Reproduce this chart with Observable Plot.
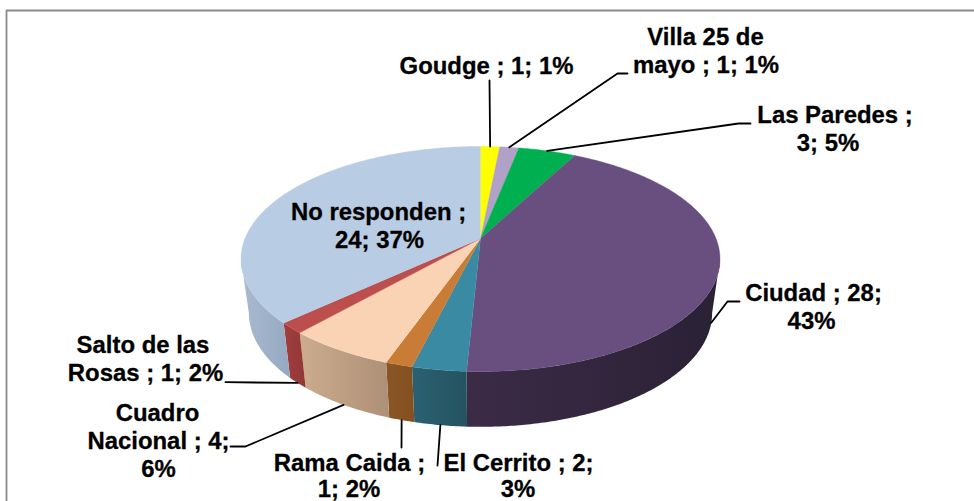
<!DOCTYPE html>
<html><head><meta charset="utf-8">
<script src="https://cdn.jsdelivr.net/npm/d3@7"></script>
<script src="https://cdn.jsdelivr.net/npm/@observablehq/plot@0.6"></script>
<style>html,body{margin:0;padding:0;background:#fff}svg{display:block}</style>
</head><body><div id="chart"></div>
<script>
// Data
const names = ["Goudge","Villa 25 de mayo","Las Paredes","Ciudad","El Cerrito","Rama Caida","Cuadro Nacional","Salto de las Rosas","No responden"];
const values = [1,1,3,28,2,1,4,1,24];
const percents = [1,1,5,43,3,2,6,2,37];
// Styles
const topColors = ["#FFFF00","#B2A1C7","#00B050","#684F7F","#3A8AA3","#C87C36","#FAD3B4","#BC4F4D","#B8CCE4"];
const wallLeft  = ["#999900","#6b6078","#006a30","#3c2b47","#2a6171","#8b5627","#cdac8e","#a03f3d","#a9bad0"];
const wallRight = ["#999900","#6b6078","#006a30","#2a2135","#24535f","#83501f","#ad9077","#923736","#95a9c2"];
// Text lines of the labels and their places
const labelText = ["Goudge ; 1; 1%","Villa 25 de","mayo ; 1; 1%","Las Paredes ;","3; 5%","Ciudad ; 28;","43%","El Cerrito ; 2;","3%","Rama Caida ;","1; 2%","Cuadro","Nacional ; 4;","6%","Salto de las","Rosas ; 1; 2%","No responden ;","24; 37%"];
const labelX = [486,705,705.5,834.5,827.5,813,811,518,517.5,349,348.5,157,158,158,142.5,145,378,379];
const labelY = [66,37,65,115,143,293,321,463,489,463,489,413,441,469,345,373,212,240];
// Leader lines: pass-through points from the slice to the label, by slice
const leaderX = [[489],[617,627],[738,750],[727,739],[437],[401],[245,230],[225]];
const leaderY = [[80],[73,73],[123,123],[301,301],[465],[447],[446,446],[381.7]];

// Pie geometry (perspective-tilted disc)
const cx=480, apexY=238, A=235.5, B=108.8, k=-0.182, wallScaleX=0.967, wallScaleY=1.01, wallDrop=54;
const total=d3.sum(values);
const cum=d3.cumsum(values);
const ang=v=>v/total*2*Math.PI;
function rim(t){const u=Math.sin(t),v=-Math.cos(t),d=1+k*v;return [A*u/d,B*v/d];}
const topPt=t=>{const [X,Y]=rim(t);return {x:cx+X,y:apexY+Y};};
const botPt=t=>{const [X,Y]=rim(t);return {x:cx+X*wallScaleX,y:apexY+Y*wallScaleY+wallDrop};};
const samples=(a,b)=>{const n=Math.max(2,Math.ceil((b-a)/0.01));return d3.range(n+1).map(i=>a+(b-a)*i/n);};
const slices=values.map((v,i)=>({i,a:ang(cum[i]-v),b:ang(cum[i]),m:ang(cum[i]-v/2)}));
const faces=slices.map(s=>[{x:cx,y:apexY},...samples(s.a,s.b).map(topPt)]);
const visA=Math.acos(k), visB=2*Math.PI-visA; // silhouette of the rim
const walls=slices.map(s=>{const a=Math.max(s.a,visA),b=Math.min(s.b,visB);
  if(b<=a) return null;
  const ts=samples(a,b);
  return [...ts.map(topPt),...ts.slice().reverse().map(botPt)];});
const leaders=leaderX.map((xs,i)=>{
  const t=slices[i].m, start=(t>visA&&t<visB)?botPt(t):topPt(t);
  return [start,...xs.map((x,j)=>({x,y:leaderY[i][j]}))];});
const labels=labelText.map((text,i)=>({text,x:labelX[i],y:labelY[i]}));
const frame=[{x:6,y:501},{x:6,y:10},{x:974,y:10}];

const gradients=()=>{
  const defs=d3.create("svg:defs");
  values.forEach((_,i)=>{
    const g=defs.append("linearGradient").attr("id","wall"+i);
    g.append("stop").attr("offset","0%").attr("stop-color",wallLeft[i]);
    g.append("stop").attr("offset","100%").attr("stop-color",wallRight[i]);
  });
  return defs.node();
};

const chart=Plot.plot({
  width:974,height:501,margin:0,
  x:{domain:[0,974],range:[0,974],axis:null},
  y:{domain:[0,501],range:[0,501],axis:null},
  style:{background:"#fff",fontFamily:"'Liberation Sans',Arial,sans-serif"},
  marks:[
    gradients,
    Plot.line(frame,{x:"x",y:"y",stroke:"#8a8a8a",strokeWidth:1.8,curve:"linear"}),
    ...walls.map((w,i)=>w?Plot.line(w,{x:"x",y:"y",fill:`url(#wall${i})`,stroke:"none",curve:"linear"}):null).filter(Boolean),
    ...faces.map((f,i)=>Plot.line(f,{x:"x",y:"y",fill:topColors[i],stroke:topColors[i],strokeWidth:0.4,curve:"linear"})),
    ...leaders.map(l=>Plot.line(l,{x:"x",y:"y",stroke:"#000",strokeWidth:1.8,curve:"linear"})),
    Plot.text(labels,{x:"x",y:"y",text:"text",fill:"#000",stroke:"#000",strokeWidth:0.3,fontWeight:"bold",fontSize:23.9,textAnchor:"middle"})
  ]
});
document.getElementById("chart").append(chart);
</script></body></html>
